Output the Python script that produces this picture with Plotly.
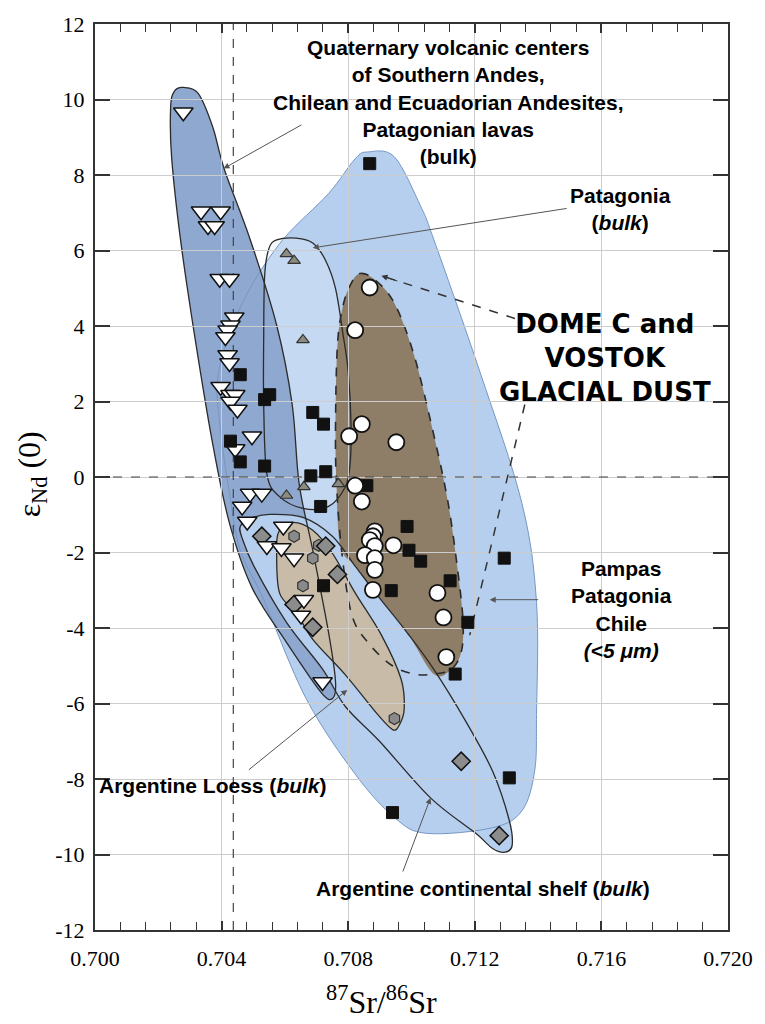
import plotly.graph_objects as go

# ---------------- DATA ----------------
# Quaternary volcanic centers / Andesites / Patagonian lavas (white inverted triangles)
qvc_x = [0.70279, 0.70335, 0.70397, 0.70357, 0.70378, 0.70394, 0.70425, 0.70440, 0.70428, 0.70419,
         0.70412, 0.70419, 0.70425, 0.70397, 0.70428, 0.70443, 0.70428, 0.70450, 0.70496, 0.70443,
         0.70490, 0.70527, 0.70465, 0.70481, 0.70595, 0.70543, 0.70589, 0.70629, 0.70660, 0.70651, 0.70719]
qvc_y = [9.66, 7.04, 7.04, 6.65, 6.65, 5.25, 5.25, 4.23, 4.02, 3.89,
         3.71, 3.23, 3.02, 2.39, 2.18, 2.18, 2.00, 1.79, 1.08, 0.74,
         -0.44, -0.44, -0.78, -1.18, -1.31, -1.83, -1.88, -2.15, -3.25, -3.67, -5.43]

# Pampas / Patagonia / Chile <5 um (black squares)
pam_x = [0.70868, 0.70459, 0.70536, 0.70552, 0.70688, 0.70722, 0.70428, 0.70459, 0.70536, 0.70682,
         0.70729, 0.70859, 0.70713, 0.70986, 0.70992, 0.71029, 0.71293, 0.70722, 0.70936, 0.71122,
         0.71178, 0.71138, 0.71309, 0.70940]
pam_y = [8.30, 2.71, 2.05, 2.18, 1.71, 1.40, 0.95, 0.40, 0.29, 0.03,
         0.14, -0.23, -0.78, -1.31, -1.94, -2.23, -2.15, -2.88, -3.01, -2.75,
         -3.85, -5.22, -7.97, -8.89]

# Patagonia bulk (gray triangles)
pat_x = [0.70605, 0.70629, 0.70657, 0.70605, 0.70660, 0.70769]
pat_y = [5.91, 5.73, 3.63, -0.49, -0.26, -0.18]

# Dome C and Vostok glacial dust (white circles)
dust_x = [0.70868, 0.70822, 0.70843, 0.70803, 0.70952, 0.70822, 0.70843, 0.70884, 0.70878, 0.70868,
          0.70884, 0.70943, 0.70853, 0.70884, 0.70884, 0.70878, 0.71082, 0.71101, 0.71110]
dust_y = [5.02, 3.89, 1.40, 1.08, 0.92, -0.23, -0.65, -1.44, -1.57, -1.67,
          -1.83, -1.81, -2.07, -2.15, -2.46, -2.99, -3.07, -3.72, -4.77]

# Argentine continental shelf (gray diamonds)
shelf_x = [0.70527, 0.70729, 0.70766, 0.70629, 0.70688, 0.71157, 0.71277]
shelf_y = [-1.57, -1.83, -2.58, -3.38, -3.98, -7.53, -9.50]

# Argentine loess (gray hexagons)
loess_x = [0.70629, 0.70688, 0.70707, 0.70657, 0.70946]
loess_y = [-1.57, -2.15, -1.81, -2.88, -6.40]

# Field envelopes (outline vertices)
env_pampas_x = [0.70862, 0.70946, 0.71029, 0.71070, 0.71216, 0.71349, 0.71395, 0.71395, 0.71389, 0.71349,
                0.71256, 0.71048, 0.70946, 0.70822, 0.70667, 0.70533, 0.70459, 0.70425, 0.70394, 0.70388,
                0.70428, 0.70490, 0.70595, 0.70738, 0.70822]
env_pampas_y = [8.61, 8.48, 7.17, 6.30, 2.79, -0.70, -3.33, -6.29, -7.79, -8.84,
                -9.29, -9.44, -9.02, -7.87, -5.87, -3.25, -1.94, -0.44, 1.40, 2.63,
                3.84, 5.00, 6.30, 7.51, 8.43]

env_qvc_x = [0.70279, 0.70326, 0.70372, 0.70409, 0.70490, 0.70574, 0.70623, 0.70645, 0.70688, 0.70738,
             0.70760, 0.70750, 0.70713, 0.70605, 0.70496, 0.70425, 0.70372, 0.70316, 0.70270, 0.70242,
             0.70239, 0.70251]
env_qvc_y = [10.32, 10.16, 9.27, 8.14, 6.30, 4.02, 1.92, -0.18, -1.94, -4.12,
             -5.43, -5.87, -5.69, -4.38, -2.93, -1.23, 0.87, 3.68, 6.30, 8.48,
             9.80, 10.22]

env_pat_x = [0.70549, 0.70574, 0.70636, 0.70688, 0.70729, 0.70760, 0.70784, 0.70800, 0.70809, 0.70806,
             0.70791, 0.70738, 0.70657, 0.70583, 0.70543, 0.70533, 0.70533, 0.70536]
env_pat_y = [6.04, 6.28, 6.33, 6.20, 5.73, 4.99, 3.76, 2.79, 1.40, 0.35,
             -0.26, -0.78, -0.83, -0.52, 0.08, 1.92, 3.68, 5.33]

env_shelf_x = [0.70459, 0.70490, 0.70552, 0.70657, 0.70750, 0.70822, 0.70893, 0.70986, 0.71070, 0.71172,
               0.71256, 0.71309, 0.71318, 0.71296, 0.71256, 0.71203, 0.71060, 0.70899, 0.70791, 0.70719,
               0.70605, 0.70502, 0.70465]
env_shelf_y = [-1.31, -1.10, -0.99, -1.07, -1.57, -2.36, -3.14, -4.12, -5.09, -6.48,
               -7.79, -9.10, -9.76, -9.94, -9.84, -9.44, -8.50, -7.00, -6.08, -5.09,
               -3.85, -2.36, -1.62]

env_loess_x = [0.70626, 0.70688, 0.70750, 0.70822, 0.70905, 0.70967, 0.70977, 0.70961, 0.70940, 0.70893,
               0.70791, 0.70688, 0.70636, 0.70583, 0.70574, 0.70583]
env_loess_y = [-1.20, -1.41, -2.02, -3.07, -4.19, -5.35, -6.14, -6.58, -6.69, -6.29,
               -5.24, -4.30, -3.59, -3.07, -1.94, -1.41]

env_dust_x = [0.70837, 0.70884, 0.70946, 0.71008, 0.71070, 0.71116, 0.71147, 0.71163, 0.71157, 0.71126,
              0.71070, 0.71008, 0.70936, 0.70862, 0.70812, 0.70781, 0.70763, 0.70760, 0.70766, 0.70784, 0.70809]
env_dust_y = [5.39, 5.23, 4.60, 3.23, 1.13, -0.70, -2.54, -3.85, -4.64, -5.09,
              -5.22, -5.22, -4.98, -4.38, -3.67, -2.09, -0.18, 1.40, 3.50, 4.55, 5.12]

fill_dust_x = [0.70837, 0.70884, 0.70946, 0.71008, 0.71070, 0.71116, 0.71147, 0.71163, 0.71157, 0.71126,
               0.71070, 0.70986, 0.70893, 0.70822, 0.70775, 0.70763, 0.70760, 0.70766, 0.70784, 0.70809]
fill_dust_y = [5.39, 5.23, 4.60, 3.23, 1.13, -0.70, -2.54, -3.85, -4.64, -5.09,
               -5.22, -4.12, -3.14, -2.36, -1.83, -0.18, 1.40, 3.50, 4.55, 5.12]

# dashed leaders from the "DOME C and VOSTOK GLACIAL DUST" label
lead1_x = [0.71327, 0.70905]
lead1_y = [4.20, 5.33]
lead2_x = [0.71358, 0.71184]
lead2_y = [1.92, -4.19]

# reference lines (bulk earth)
ref_sr = 0.70437
ref_nd = 0.0

x_ticks = [0.700, 0.704, 0.708, 0.712, 0.716, 0.720]
x_ticktext = ["0.700", "0.704", "0.708", "0.712", "0.716", "0.720"]
y_ticks = [12, 10, 8, 6, 4, 2, 0, -2, -4, -6, -8, -10, -12]
y_ticktext = ["12", "10", "8", "6", "4", "2", "0", "-2", "-4", "-6", "-8", "-10", "-12"]

# ---------------- HELPERS ----------------
def smooth_path(xs, ys):
    pts = list(zip(xs, ys))
    n = len(pts)
    d = "M %.6f,%.4f" % pts[0]
    for i in range(n):
        p0 = pts[(i - 1) % n]
        p1 = pts[i]
        p2 = pts[(i + 1) % n]
        p3 = pts[(i + 2) % n]
        c1 = (p1[0] + (p2[0] - p0[0]) / 6, p1[1] + (p2[1] - p0[1]) / 6)
        c2 = (p2[0] - (p3[0] - p1[0]) / 6, p2[1] - (p3[1] - p1[1]) / 6)
        d += " C %.6f,%.4f %.6f,%.4f %.6f,%.4f" % (c1[0], c1[1], c2[0], c2[1], p2[0], p2[1])
    return d + " Z"


def fill_shape(xs, ys, color):
    return dict(type="path", path=smooth_path(xs, ys), xref="x", yref="y",
                fillcolor=color, line=dict(width=0), layer="below")


def line_shape(xs, ys, color, width=1.3, dash="solid"):
    return dict(type="path", path=smooth_path(xs, ys), xref="x", yref="y",
                fillcolor="rgba(0,0,0,0)", line=dict(color=color, width=width, dash=dash), layer="below")


LIGHT_BLUE = "#b6cfee"
DARK_BLUE = "#8fa8d0"
TAN = "#c8bca9"
BROWN = "#8e7e67"
EDGE = "#2b2b2b"

shapes = [
    fill_shape(env_pampas_x, env_pampas_y, LIGHT_BLUE),
    fill_shape(env_pat_x, env_pat_y, "rgba(225,235,250,0.35)"),
    fill_shape(env_qvc_x, env_qvc_y, DARK_BLUE),
    fill_shape(env_shelf_x, env_shelf_y, LIGHT_BLUE),
    fill_shape(env_loess_x, env_loess_y, TAN),
    fill_shape(fill_dust_x, fill_dust_y, BROWN),
    line_shape(env_pampas_x, env_pampas_y, "#7597c4", 1.0),
    line_shape(env_qvc_x, env_qvc_y, EDGE),
    line_shape(env_pat_x, env_pat_y, EDGE),
    line_shape(env_shelf_x, env_shelf_y, EDGE),
    line_shape(env_loess_x, env_loess_y, EDGE),
    line_shape(env_dust_x, env_dust_y, EDGE, 1.6, "dash"),
    dict(type="line", xref="x", yref="y", x0=ref_sr, x1=ref_sr, y0=-12, y1=12,
         line=dict(color="#444", width=1.2, dash="dash"), layer="between"),
    dict(type="line", xref="x", yref="y", x0=0.700, x1=0.720, y0=ref_nd, y1=ref_nd,
         line=dict(color="#444", width=1.2, dash="dash"), layer="between"),
]

fig = go.Figure()

# dashed leaders
for lx, ly in [(lead1_x, lead1_y), (lead2_x, lead2_y)]:
    fig.add_trace(go.Scatter(x=lx, y=ly, mode="lines", hoverinfo="skip",
                             line=dict(color="#333", width=1.5, dash="dash"), showlegend=False))

mk_line = dict(color="#111", width=1.5)
fig.add_trace(go.Scatter(x=loess_x, y=loess_y, mode="markers", showlegend=False,
                         marker=dict(symbol="hexagon", size=12, color="#8a8a8a", line=dict(color="#333", width=1.2))))
fig.add_trace(go.Scatter(x=shelf_x, y=shelf_y, mode="markers", showlegend=False,
                         marker=dict(symbol="diamond", size=14, color="#8c8c8c", line=mk_line)))
fig.add_trace(go.Scatter(x=qvc_x, y=qvc_y, mode="markers", showlegend=False,
                         marker=dict(symbol="triangle-down", size=17, color="white", line=mk_line)))
fig.add_trace(go.Scatter(x=pat_x, y=pat_y, mode="markers", showlegend=False,
                         marker=dict(symbol="triangle-up", size=11, color="#8b8b80", line=dict(color="#333", width=1.2))))
fig.add_trace(go.Scatter(x=pam_x, y=pam_y, mode="markers", showlegend=False,
                         marker=dict(symbol="square", size=12, color="#111", line=dict(color="#111", width=1))))
fig.add_trace(go.Scatter(x=dust_x, y=dust_y, mode="markers", showlegend=False,
                         marker=dict(symbol="circle", size=16, color="white", line=dict(color="#111", width=1.8))))

SANS = "Liberation Sans"
WIDE = "DejaVu Sans"
SERIF = "Liberation Serif"

ann = []
def txt(x, y, text, size=21, family=SANS):
    ann.append(dict(x=x, y=y, xref="x", yref="y", text=text, showarrow=False,
                    font=dict(family=family, size=size, color="black"), align="center",
                    xanchor="center", yanchor="middle"))

txt(0.71116, 9.93, "<b>Quaternary volcanic centers<br>of Southern Andes,<br>Chilean and Ecuadorian Andesites,<br>Patagonian lavas<br>(bulk)</b>")
txt(0.71659, 7.09, "<b>Patagonia<br>(<i>bulk</i>)</b>")
txt(0.71612, 3.155, "<b>DOME C and<br>VOSTOK<br>GLACIAL DUST</b>", 26, WIDE)
txt(0.71665, -3.51, "<b>Pampas<br>Patagonia<br>Chile<br><i>(&lt;5 μm)</i></b>")
txt(0.70372, -8.18, "<b>Argentine Loess (<i>bulk</i>)</b>")
txt(0.71225, -10.89, "<b>Argentine continental shelf (<i>bulk</i>)</b>")

def arrow(tx, ty, hx, hy, color="#555"):
    ann.append(dict(x=hx, y=hy, ax=tx, ay=ty, xref="x", yref="y", axref="x", ayref="y",
                    text="", showarrow=True, arrowhead=2, arrowsize=1.2, arrowwidth=1,
                    arrowcolor=color))

arrow(0.70657, 9.35, 0.70406, 8.17)
arrow(0.71495, 7.12, 0.70688, 6.07)
arrow(0.71405, -3.25, 0.71247, -3.25)
arrow(0.70481, -7.79, 0.70797, -5.64)
arrow(0.70971, -10.49, 0.71060, -8.50)
arrow(0.70960, 5.18, 0.70905, 5.33, "#333")

# axis titles
ann.append(dict(x=-0.101, y=0.503, xref="paper", yref="paper", text="ε<sub>Nd</sub> (0)",
                showarrow=False, textangle=-90, font=dict(family=SERIF, size=32, color="black"),
                xanchor="center", yanchor="middle"))
ann.append(dict(x=0.4527, y=-0.077, xref="paper", yref="paper",
                text="<sup>87</sup>Sr/<sup>86</sup>Sr",
                showarrow=False, font=dict(family=SERIF, size=32, color="black"),
                xanchor="center", yanchor="middle"))

fig.update_layout(
    width=765, height=1024,
    margin=dict(l=95, r=25, t=16, b=94),
    plot_bgcolor="white", paper_bgcolor="white",
    shapes=shapes, annotations=ann, showlegend=False,
    xaxis=dict(range=[0.700, 0.720], tickvals=x_ticks, ticktext=x_ticktext,
               ticks="inside", ticklen=9, tickwidth=1.5, tickcolor="#333",
               showline=True, linecolor="#333", linewidth=2, mirror="allticks",
               showgrid=True, gridcolor="#cdcdcd", gridwidth=1, zeroline=False,
               ticklabelstandoff=8,
               minor=dict(dtick=0.0008, tick0=0.700, ticks="inside", ticklen=8,
                          tickcolor="#333", tickwidth=1.2, showgrid=False),
               tickfont=dict(family=SERIF, size=22, color="black")),
    yaxis=dict(range=[-12, 12], tickvals=y_ticks, ticktext=y_ticktext,
               ticks="inside", ticklen=15, tickwidth=1.8, tickcolor="#333",
               showline=True, linecolor="#333", linewidth=2, mirror="allticks",
               showgrid=True, gridcolor="#cdcdcd", gridwidth=1, zeroline=False,
               ticklabelstandoff=4,
               tickfont=dict(family=SERIF, size=22, color="black")),
)

fig.write_html("out.html")
